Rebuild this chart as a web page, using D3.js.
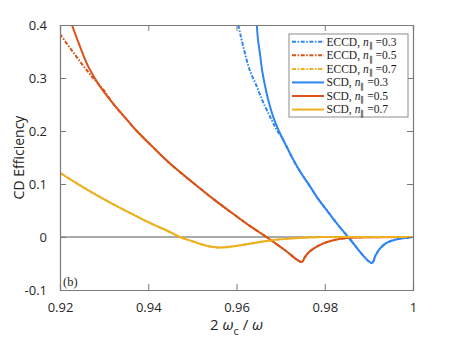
<!DOCTYPE html>
<html>
<head>
<meta charset="utf-8">
<script src="https://cdn.jsdelivr.net/npm/d3@7"></script>
<style>
  html, body { margin: 0; padding: 0; background: #fff; overflow: hidden; }
  svg { display: block; }
</style>
</head>
<body>
<div id="chart"></div>
<script>
// x values are 2*omega_c/omega, y values are CD efficiency
const scd03X = [0.9646, 0.9649, 0.9653, 0.9658, 0.9665, 0.9673, 0.9683, 0.9694, 0.9706, 0.9733, 0.975, 0.9767, 0.9785, 0.9804, 0.9828, 0.9853, 0.9907, 0.9915, 0.9925, 0.994, 0.996, 0.998, 1.0];
const scd03Y = [0.40, 0.37, 0.347, 0.315, 0.284, 0.255, 0.227, 0.204, 0.183, 0.139, 0.116, 0.095, 0.072, 0.051, 0.025, 0.0, -0.049, -0.035, -0.022, -0.011, -0.005, -0.002, 0.0];

const eccd03X = [0.9604, 0.961, 0.9619, 0.963, 0.9646, 0.966, 0.9676, 0.969, 0.9706, 0.9733, 0.975, 0.9767, 0.9785, 0.9804, 0.9828, 0.9853, 0.9907, 0.9915, 0.9925, 0.994, 0.996, 0.998, 1.0];
const eccd03Y = [0.40, 0.378, 0.347, 0.315, 0.284, 0.255, 0.227, 0.204, 0.183, 0.139, 0.116, 0.095, 0.072, 0.051, 0.025, 0.0, -0.049, -0.035, -0.022, -0.011, -0.005, -0.002, 0.0];

const scd05X = [0.9227, 0.9245, 0.9265, 0.929, 0.932, 0.9355, 0.9374, 0.941, 0.945, 0.9505, 0.955, 0.9597, 0.963, 0.9668, 0.971, 0.9748, 0.9755, 0.9765, 0.978, 0.980, 0.982, 0.985, 0.99, 1.0];
const scd05Y = [0.40, 0.36, 0.32, 0.285, 0.252, 0.218, 0.20, 0.17, 0.138, 0.10, 0.07, 0.041, 0.021, 0.0, -0.025, -0.047, -0.038, -0.028, -0.019, -0.011, -0.006, -0.002, -0.0005, 0.0];

const eccd05X = [0.92, 0.9225, 0.925, 0.9275, 0.930, 0.932, 0.9355, 0.9374, 0.941, 0.945, 0.9505, 0.955, 0.9597, 0.963, 0.9668, 0.971, 0.9748, 0.9755, 0.9765, 0.978, 0.980, 0.982, 0.985, 0.99, 1.0];
const eccd05Y = [0.383, 0.354, 0.326, 0.30, 0.276, 0.252, 0.218, 0.20, 0.17, 0.138, 0.10, 0.07, 0.041, 0.021, 0.0, -0.025, -0.047, -0.038, -0.028, -0.019, -0.011, -0.006, -0.002, -0.0005, 0.0];

const scd07X = [0.92, 0.925, 0.93, 0.935, 0.94, 0.945, 0.9472, 0.95, 0.953, 0.956, 0.959, 0.962, 0.965, 0.968, 0.972, 0.976, 0.98, 1.0];
const scd07Y = [0.121, 0.095, 0.071, 0.049, 0.028, 0.009, 0.0, -0.008, -0.016, -0.020, -0.018, -0.014, -0.010, -0.006, -0.003, -0.001, 0.0, 0.0];
const eccd07X = scd07X;
const eccd07Y = scd07Y;

const xTicks = [0.92, 0.94, 0.96, 0.98, 1];
const xTickLabels = ['0.92', '0.94', '0.96', '0.98', '1'];
const yTicks = [-0.1, 0, 0.1, 0.2, 0.3, 0.4];
const yTickLabels = ['-0.1', '0', '0.1', '0.2', '0.3', '0.4'];

const BLUE = '#2e86f2';
const RED = '#d95319';
const ORANGE = '#edb120';

const seriesList = [
  { type: 'ECCD', n: '0.3', xs: eccd03X, ys: eccd03Y, color: BLUE, dashed: true },
  { type: 'ECCD', n: '0.5', xs: eccd05X, ys: eccd05Y, color: RED, dashed: true },
  { type: 'ECCD', n: '0.7', xs: eccd07X, ys: eccd07Y, color: ORANGE, dashed: true },
  { type: 'SCD', n: '0.3', xs: scd03X, ys: scd03Y, color: BLUE, dashed: false },
  { type: 'SCD', n: '0.5', xs: scd05X, ys: scd05Y, color: RED, dashed: false },
  { type: 'SCD', n: '0.7', xs: scd07X, ys: scd07Y, color: ORANGE, dashed: false },
];

const width = 457;
const height = 343;
const margin = { top: 25, right: 44, bottom: 53, left: 60 };
const innerWidth = width - margin.left - margin.right;
const innerHeight = height - margin.top - margin.bottom;
const DASH = '4,1.6,1.5,1.6';
const tickFont = '"Open Sans", sans-serif';
const axisColor = '#7a7a7a';

const svg = d3.select('#chart')
  .append('svg')
  .attr('width', width)
  .attr('height', height);

svg.append('defs').append('clipPath').attr('id', 'plot-clip')
  .append('rect').attr('width', innerWidth).attr('height', innerHeight);

const g = svg.append('g').attr('transform', `translate(${margin.left},${margin.top})`);

const x = d3.scaleLinear().domain([0.92, 1]).range([0, innerWidth]);
const y = d3.scaleLinear().domain([-0.1, 0.4]).range([innerHeight, 0]);

// zero line
g.append('line')
  .attr('x1', 0).attr('x2', innerWidth)
  .attr('y1', y(0)).attr('y2', y(0))
  .attr('stroke', '#555').attr('stroke-width', 1);

const line = d3.line()
  .x((d) => x(d[0]))
  .y((d) => y(d[1]))
  .curve(d3.curveCatmullRom.alpha(0.5));

const plot = g.append('g').attr('clip-path', 'url(#plot-clip)');
seriesList.forEach((s) => {
  const pts = s.xs.map((v, i) => [v, s.ys[i]]);
  plot.append('path')
    .datum(pts)
    .attr('fill', 'none')
    .attr('stroke', s.color)
    .attr('stroke-width', 2)
    .attr('stroke-dasharray', s.dashed ? DASH : null)
    .attr('d', line);
});

// axes, ticks pointing inward, mirrored on top and right
const tickLen = 6;
const xBottom = d3.axisBottom(x).tickValues(xTicks).tickSize(-tickLen)
  .tickPadding(tickLen + 7).tickFormat((d, i) => xTickLabels[i]);
const xTop = d3.axisTop(x).tickValues(xTicks).tickSize(-tickLen).tickFormat('');
const yLeft = d3.axisLeft(y).tickValues(yTicks).tickSize(-tickLen)
  .tickPadding(tickLen + 7).tickFormat((d, i) => yTickLabels[i]);
const yRight = d3.axisRight(y).tickValues(yTicks).tickSize(-tickLen).tickFormat('');

const axes = [
  g.append('g').attr('transform', `translate(0,${innerHeight})`).call(xBottom),
  g.append('g').call(xTop),
  g.append('g').call(yLeft),
  g.append('g').attr('transform', `translate(${innerWidth},0)`).call(yRight),
];
axes.forEach((a) => {
  a.selectAll('.domain').attr('stroke', axisColor).attr('stroke-width', 1.2);
  a.selectAll('.tick line').attr('stroke', axisColor).attr('stroke-width', 1);
  a.selectAll('.tick text')
    .filter(function () { return !this.textContent; })
    .remove();
  a.selectAll('.tick text')
    .attr('fill', '#262626')
    .style('font-family', tickFont)
    .style('font-size', '13px');
});

// axis labels
svg.append('text')
  .attr('transform', `translate(24,${margin.top + innerHeight / 2}) rotate(-90)`)
  .attr('text-anchor', 'middle')
  .attr('fill', '#262626')
  .style('font-family', tickFont)
  .style('font-size', '14px')
  .text('CD Efficiency');

const xl = svg.append('text')
  .attr('x', margin.left + innerWidth / 2)
  .attr('y', 330)
  .attr('text-anchor', 'middle')
  .attr('fill', '#262626')
  .style('font-family', tickFont)
  .style('font-size', '15px');
xl.append('tspan').text('2 ');
xl.append('tspan').style('font-style', 'italic').text('ω');
xl.append('tspan').attr('dy', 5).style('font-size', '11px').text('c');
xl.append('tspan').attr('dy', -5).text(' / ');
xl.append('tspan').style('font-style', 'italic').text('ω');

// panel tag
g.append('text')
  .attr('x', 3)
  .attr('y', innerHeight - 4)
  .attr('fill', '#262626')
  .style('font-family', '"Liberation Serif", serif')
  .style('font-size', '12.5px')
  .text('(b)');

// legend
const legend = g.append('g').attr('transform', `translate(${289 - margin.left},${34 - margin.top})`);
legend.append('rect')
  .attr('width', 119).attr('height', 83)
  .attr('fill', '#fff')
  .attr('stroke', '#8c8c8c').attr('stroke-width', 1);

seriesList.forEach((s, i) => {
  const ry = 7.8 + i * 13.55;
  legend.append('line')
    .attr('x1', 3).attr('x2', 35)
    .attr('y1', ry).attr('y2', ry)
    .attr('stroke', s.color).attr('stroke-width', 2)
    .attr('stroke-dasharray', s.dashed ? DASH : null);
  const t = legend.append('text')
    .attr('x', 37.5).attr('y', ry + 3.8)
    .attr('fill', '#1a1a1a')
    .style('font-family', '"Liberation Serif", serif')
    .style('font-size', '11.5px');
  t.append('tspan').text(`${s.type}, `);
  t.append('tspan').style('font-style', 'italic').text('n');
  t.append('tspan').attr('dy', 2.5).style('font-size', '8px').text('∥');
  t.append('tspan').attr('dy', -2.5).text(` =${s.n}`);
});
</script>
</body>
</html>
